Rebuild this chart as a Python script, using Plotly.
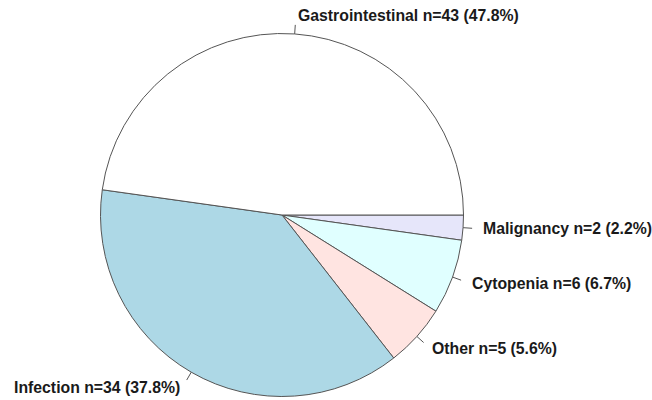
import math
import plotly.graph_objects as go

categories = ["Malignancy", "Cytopenia", "Other", "Infection", "Gastrointestinal"]
counts = [2, 6, 5, 34, 43]
colors = ["#E6E6FA", "#E0FFFF", "#FFE4E1", "#ADD8E6", "#FFFFFF"]

W, H = 652, 400
CX, CY, R = 282.0, 215.0, 181.5  # pie centre / radius in figure pixels

total = sum(counts)
labels = [f"{c} n={n} ({n / total * 100:.1f}%)" for c, n in zip(categories, counts)]

fig = go.Figure(go.Pie(
    labels=categories,
    values=counts,
    sort=False,
    direction="clockwise",
    rotation=90,
    marker=dict(colors=colors, line=dict(color="#555555", width=1)),
    textinfo="none",
    hoverinfo="label+value+percent",
    showlegend=False,
    domain=dict(x=[(CX - R) / W, (CX + R) / W], y=[(H - CY - R) / H, (H - CY + R) / H]),
))

def to_paper(px, py):
    return px / W, 1 - py / H

annotations = []
shapes = []
cum = 0
for lab, n in zip(labels, counts):
    mid = (cum + n / 2) / total * 2 * math.pi  # clockwise from 3 o'clock
    cum += n
    ang = -mid
    c, s = math.cos(ang), math.sin(ang)
    x0, y0 = to_paper(CX + R * c, CY - R * s)
    x1, y1 = to_paper(CX + 1.05 * R * c, CY - 1.05 * R * s)
    shapes.append(dict(type="line", xref="paper", yref="paper", x0=x0, y0=y0, x1=x1, y1=y1,
                       line=dict(color="#555555", width=1)))
    tx, ty = to_paper(CX + 1.1 * R * c, CY - 1.1 * R * s)
    annotations.append(dict(
        x=tx, y=ty, xref="paper", yref="paper", text=f"<b>{lab}</b>", showarrow=False,
        xanchor="left" if c > 0 else "right", yanchor="middle",
        font=dict(family="Liberation Sans, Arial, sans-serif", size=15.8, color="#1a1a1a"),
    ))

fig.update_layout(
    width=W, height=H,
    margin=dict(l=0, r=0, t=0, b=0),
    paper_bgcolor="white", plot_bgcolor="white",
    annotations=annotations, shapes=shapes,
)

fig.write_html(
    "out.html",
    config={"displayModeBar": False},
    post_script="document.body.style.margin='0';document.body.style.overflow='hidden';",
)
